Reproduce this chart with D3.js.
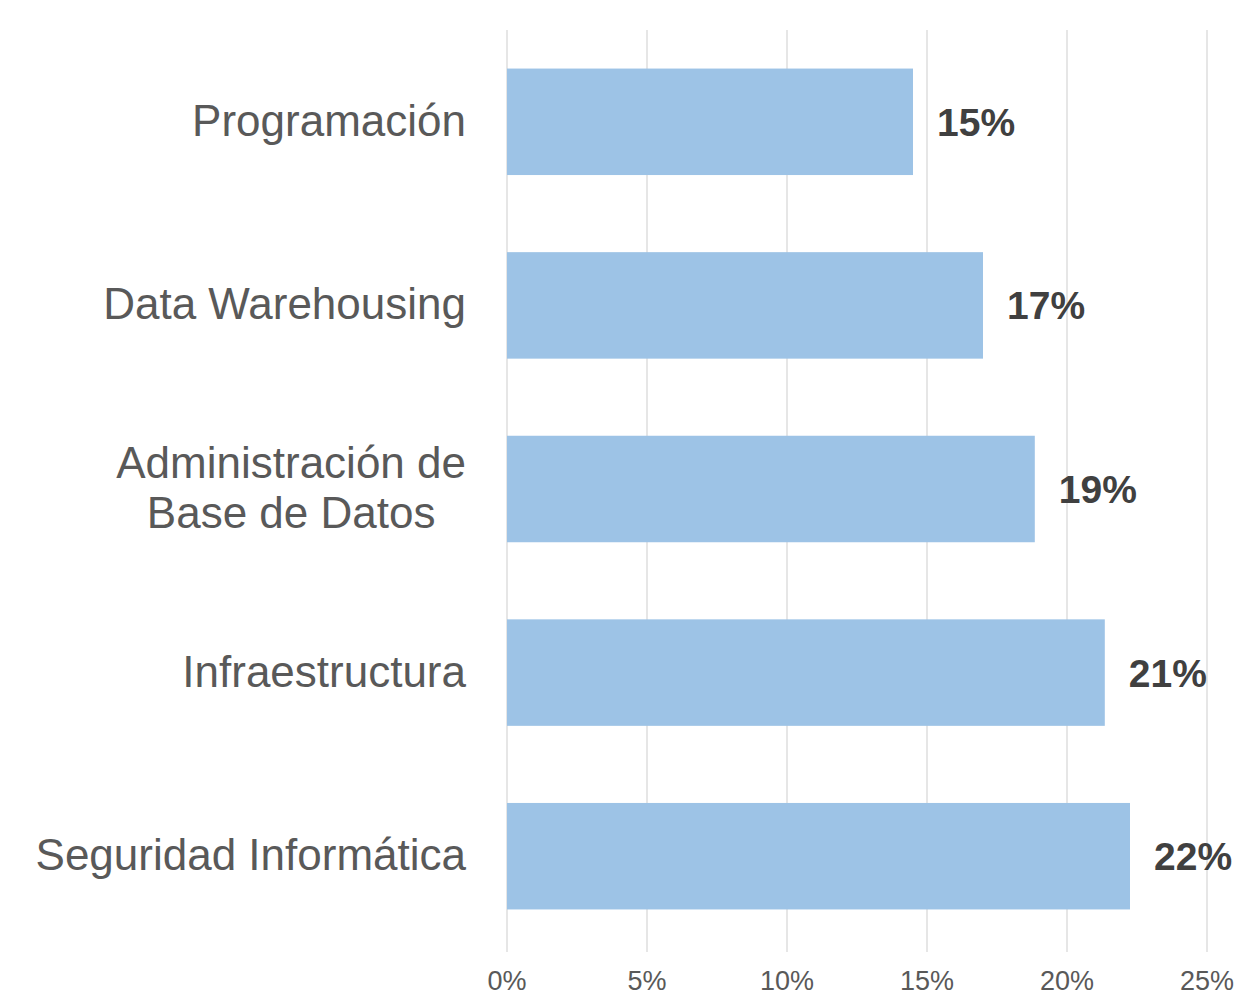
<!DOCTYPE html>
<html><head><meta charset="utf-8">
<script src="https://cdn.jsdelivr.net/npm/d3@7"></script>
<style>body{margin:0;background:#fff}svg{display:block}</style>
</head><body>
<script>
const categories = [["Programación"],["Data Warehousing"],["Administración de","Base de Datos"],["Infraestructura"],["Seguridad Informática"]];
const values = [14.5, 17.0, 18.85, 21.35, 22.25];
const tickValues = [0,5,10,15,20,25];

const W=1240,H=998;
const svg=d3.select("body").append("svg").attr("width",W).attr("height",H);
const x=d3.scaleLinear().domain([0,25]).range([507,1207]);
const y=d3.scaleBand().domain(d3.range(categories.length)).range([30,948]).paddingInner(0.42).paddingOuter(0.21);

// gridlines
svg.append("g").selectAll("line").data(tickValues).join("line")
 .attr("x1",d=>x(d)).attr("x2",d=>x(d)).attr("y1",30).attr("y2",952)
 .attr("stroke","#d9d9d9").attr("stroke-width",1.3);

// tick labels
svg.append("g").selectAll("text").data(tickValues).join("text")
 .attr("x",d=>x(d)).attr("y",990).attr("text-anchor","middle")
 .attr("font-family","Liberation Sans, Arial, sans-serif").attr("font-size",27)
 .attr("fill","#595959").text(d=>d+"%");

// bars
svg.append("g").selectAll("rect").data(values).join("rect")
 .attr("x",x(0)).attr("y",(d,i)=>y(i)).attr("width",d=>x(d)-x(0)).attr("height",y.bandwidth())
 .attr("fill","#9dc3e6");

// value labels
svg.append("g").selectAll("text").data(values).join("text")
 .attr("x",d=>x(d)+24).attr("y",(d,i)=>y(i)+y.bandwidth()/2+14)
 .attr("font-family","Liberation Sans, Arial, sans-serif").attr("font-size",39).attr("font-weight","bold")
 .attr("fill","#404040").text(d=>Math.round(d)+"%");

// category labels
const lineH=50;
const cg=svg.append("g");
categories.forEach((lines,i)=>{
  const cy=y(i)+y.bandwidth()/2;
  const t=cg.append("text").attr("font-family","Liberation Sans, Arial, sans-serif").attr("font-size",44).attr("fill","#595959");
  const n=lines.length;
  lines.forEach((s,k)=>{
    t.append("tspan").attr("y",cy+14+(k-(n-1)/2)*lineH).text(s);
  });
  if(n===1){
    t.attr("text-anchor","end").selectAll("tspan").attr("x",466);
  } else {
    let maxW=0;
    t.selectAll("tspan").each(function(){maxW=Math.max(maxW,this.getComputedTextLength());});
    t.attr("text-anchor","middle").selectAll("tspan").attr("x",466-maxW/2);
  }
});
</script>
</body></html>
